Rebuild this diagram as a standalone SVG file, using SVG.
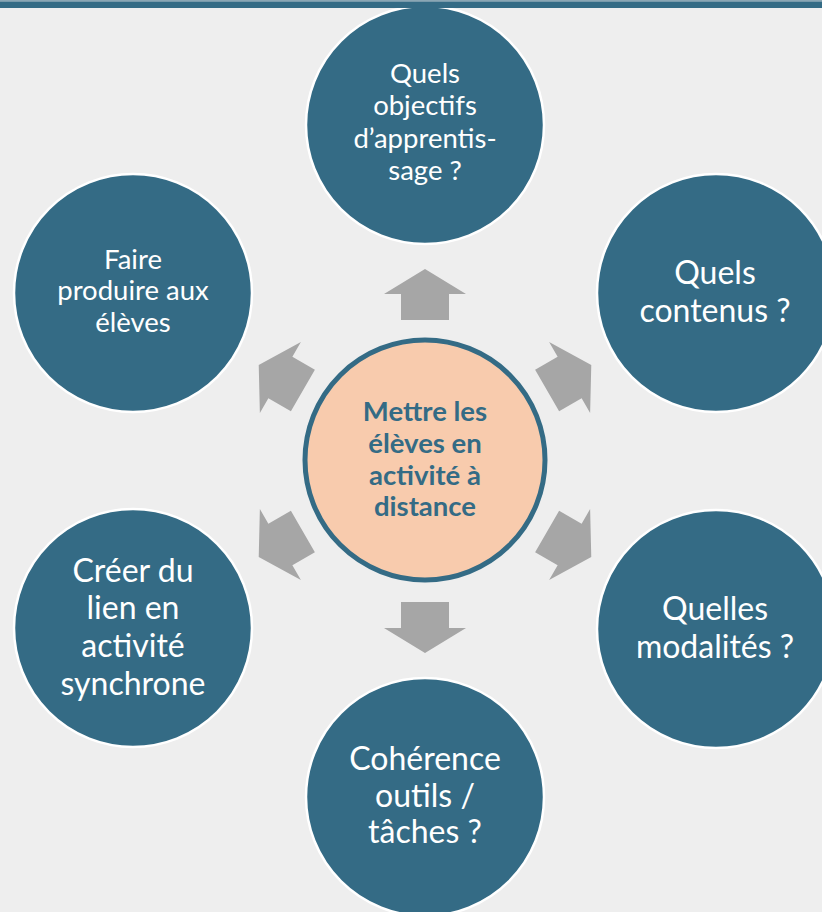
<svg xmlns="http://www.w3.org/2000/svg" width="822" height="912" viewBox="0 0 822 912">
<style>
.outer{fill:#346b85;stroke:#ffffff;stroke-width:2.5}
.center{fill:#f8cbad;stroke:#346b85;stroke-width:5}
.t{font-family:Lato,"Liberation Sans",sans-serif;fill:#ffffff;text-anchor:middle}
.s{font-size:27.5px}
.l{font-size:32px}
.c{font-family:Lato,"Liberation Sans",sans-serif;font-weight:bold;font-size:27.5px;fill:#346b85;text-anchor:middle}
.arrow{fill:#a6a6a6}
</style>
<defs>
<polygon id="arr" points="425,269 466,294 449,294 449,320 401,320 401,294 384,294"/>
</defs>
<rect x="0" y="0" width="822" height="912" fill="#eeeeee"/>
<g id="connectors" class="arrow">
<use href="#arr"/>
<use href="#arr" transform="rotate(60 425 461)"/>
<use href="#arr" transform="rotate(120 425 461)"/>
<use href="#arr" transform="rotate(180 425 461)"/>
<use href="#arr" transform="rotate(240 425 461)"/>
<use href="#arr" transform="rotate(300 425 461)"/>
</g>
<g id="center">
<circle class="center" cx="425" cy="460" r="120"/>
<text class="c"><tspan x="425" y="421">Mettre les</tspan><tspan x="425" y="453">élèves en</tspan><tspan x="425" y="485">activité à</tspan><tspan x="425" y="516">distance</tspan></text>
</g>
<g id="n-top">
<circle class="outer" cx="425" cy="125" r="119"/>
<text class="t s"><tspan x="425" y="83">Quels</tspan><tspan x="425" y="115">objectifs</tspan><tspan x="425" y="148">d’apprentis-</tspan><tspan x="425" y="180">sage ?</tspan></text>
</g>
<g id="n-upper-right">
<circle class="outer" cx="716" cy="293" r="119"/>
<text class="t l"><tspan x="715" y="284">Quels</tspan><tspan x="715" y="322">contenus ?</tspan></text>
</g>
<g id="n-lower-right">
<circle class="outer" cx="716" cy="629" r="119"/>
<text class="t l"><tspan x="715" y="620">Quelles</tspan><tspan x="715" y="658">modalités ?</tspan></text>
</g>
<g id="n-bottom">
<circle class="outer" cx="425" cy="797" r="119"/>
<text class="t l"><tspan x="425" y="770">Cohérence</tspan><tspan x="425" y="807">outils /</tspan><tspan x="425" y="843">tâches ?</tspan></text>
</g>
<g id="n-lower-left">
<circle class="outer" cx="133" cy="628" r="119"/>
<text class="t l"><tspan x="133" y="582">Créer du</tspan><tspan x="133" y="619">lien en</tspan><tspan x="133" y="657">activité</tspan><tspan x="133" y="695">synchrone</tspan></text>
</g>
<g id="n-upper-left">
<circle class="outer" cx="133" cy="293" r="119"/>
<text class="t s"><tspan x="133" y="269">Faire</tspan><tspan x="133" y="300">produire aux</tspan><tspan x="133" y="332">élèves</tspan></text>
</g>
<rect x="0" y="0" width="822" height="1.5" fill="#8aa6b4"/>
<rect x="0" y="1.5" width="822" height="6.5" fill="#346b85"/>
</svg>
